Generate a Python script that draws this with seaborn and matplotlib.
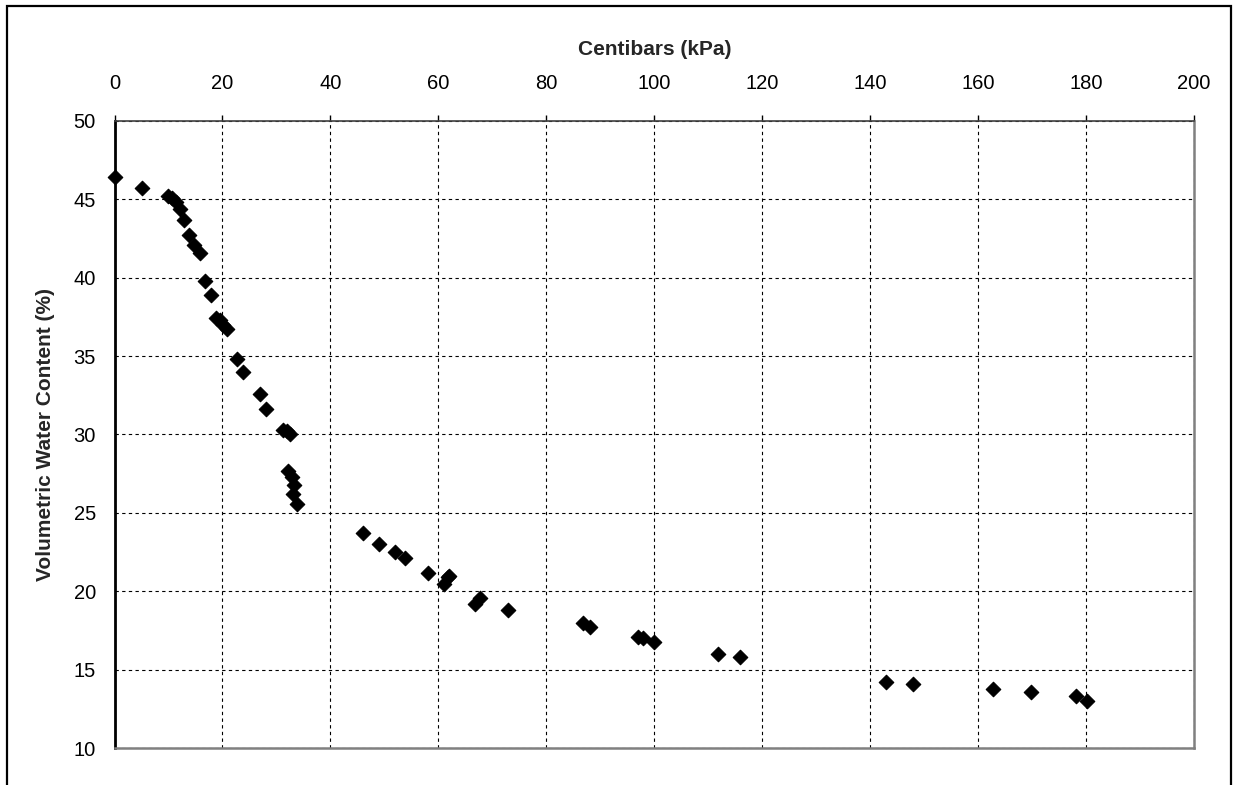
import numpy as np
import pandas as pd
import matplotlib
matplotlib.use("Agg")
import matplotlib.pyplot as plt
import seaborn as sns
from matplotlib.patches import Rectangle

# readings: suction (centibars) vs volumetric water content (%)
kpa = [0, 5, 9.9, 10.7, 11.4, 12.1, 12.9, 13.8, 14.7, 15.8, 16.8, 17.9,
       18.8, 19.5, 20.1, 20.8, 22.7, 23.8, 27.0, 28.1, 31.3, 32.0, 32.5,
       32.1, 32.9, 33.3, 33.1, 33.8, 46.0, 49.0, 52.0, 53.8, 58.1, 61.1,
       61.8, 62.0, 66.8, 67.7, 72.9, 86.8, 88.1, 97.0, 97.9, 100.0, 111.8,
       115.9, 142.9, 148.0, 162.8, 169.8, 178.2, 180.2]
vwc = [46.4, 45.7, 45.2, 45.1, 44.8, 44.4, 43.7, 42.7, 42.1, 41.6, 39.8, 38.9,
       37.4, 37.3, 37.0, 36.7, 34.8, 34.0, 32.6, 31.6, 30.3, 30.2, 30.0,
       27.7, 27.3, 26.8, 26.2, 25.6, 23.7, 23.0, 22.5, 22.1, 21.2, 20.5,
       20.9, 21.0, 19.2, 19.6, 18.8, 18.0, 17.7, 17.1, 17.0, 16.8, 16.0,
       15.8, 14.2, 14.1, 13.8, 13.6, 13.3, 13.0]

df = pd.DataFrame({"kPa": kpa, "VWC": vwc})

sns.set_style("white")
plt.rcParams['font.family'] = ['Liberation Sans', 'DejaVu Sans']

fig = plt.figure(figsize=(12.33, 7.85), dpi=100)
ax = fig.add_axes([0.0929, 0.0468, 0.8755, 0.7994])

sns.scatterplot(data=df, x="kPa", y="VWC", marker="D", color="black",
                edgecolor="black", linewidth=0.8, s=55, ax=ax, zorder=3,
                clip_on=False)

ax.set_xlim(0, 200)
ax.set_ylim(10, 50)
ax.set_xticks(np.arange(0, 201, 20))
ax.set_yticks(np.arange(10, 51, 5))
ax.xaxis.tick_top()
ax.xaxis.set_label_position("top")
ax.tick_params(axis="x", direction="out", length=4, width=1, pad=16,
               labelsize=14.5, colors="black")
ax.tick_params(axis="y", direction="out", length=4.5, width=1, pad=9,
               labelsize=14.5, colors="black")
ax.grid(True, color="black", linestyle=(0, (3, 3)), linewidth=0.8)

ax.set_xlabel("Centibars (kPa)", fontsize=15, fontweight="bold", labelpad=14)
ax.set_ylabel("Volumetric Water Content (%)", fontsize=15, fontweight="bold",
              labelpad=13)

ax.spines["top"].set_color("#404040")
ax.spines["top"].set_linewidth(1.2)
for side in ["right", "bottom"]:
    ax.spines[side].set_color("#808080")
    ax.spines[side].set_linewidth(1.8)
ax.spines["left"].set_color("black")
ax.spines["left"].set_linewidth(2)

# outer chart frame
fig.add_artist(Rectangle((7 / 1233, -0.05), 1224 / 1233, 1.05 - 5.5 / 785,
                         transform=fig.transFigure, fill=False,
                         edgecolor="black", linewidth=1.6))

fig.savefig("out.png", dpi=100, facecolor="white")
